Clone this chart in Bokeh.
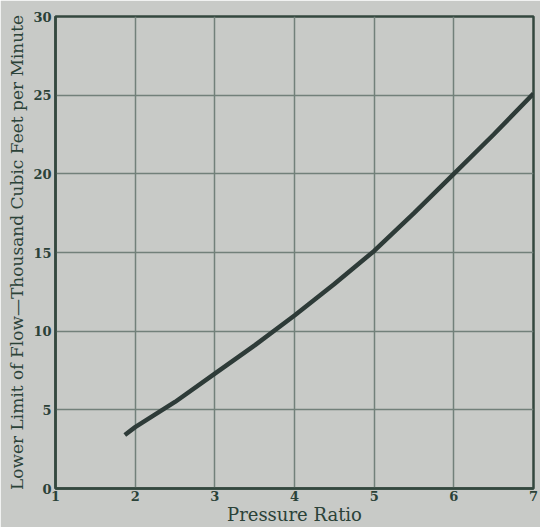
from bokeh.plotting import figure
from bokeh.models import FixedTicker, Range1d
from bokeh.embed import file_html
from bokeh.resources import INLINE

pressure_ratio = [1.87, 2.0, 2.5, 3.0, 3.5, 4.0, 4.5, 5.0, 5.5, 6.0, 6.5, 7.0]
lower_limit_flow = [3.4, 3.9, 5.5, 7.3, 9.1, 11.0, 13.0, 15.1, 17.5, 20.0, 22.5, 25.1]
x_ticks = [1, 2, 3, 4, 5, 6, 7]
y_ticks = [0, 5, 10, 15, 20, 25, 30]

BG = "#c8cac7"
INK = "#2e3b38"
AXIS = "#34483f"
GRID = "#72807a"
LABEL = "#2b4238"
FONT = "DejaVu Serif"

p = figure(width=540, height=527, output_backend="svg", toolbar_location=None,
           x_range=Range1d(1, 7), y_range=Range1d(0, 30),
           min_border_left=55, min_border_right=7, min_border_top=16, min_border_bottom=30)
p.background_fill_color = BG
p.border_fill_color = BG
p.outline_line_color = AXIS
p.outline_line_width = 2.5

p.line(pressure_ratio, lower_limit_flow, line_color=INK, line_width=4.5)

for ax, ticks in ((p.xaxis, x_ticks), (p.yaxis, y_ticks)):
    ax.ticker = FixedTicker(ticks=ticks)
    ax.major_tick_line_color = None
    ax.major_tick_out = 0
    ax.major_tick_in = 0
    ax.minor_tick_line_color = None
    ax.minor_tick_out = 0
    ax.minor_tick_in = 0
    ax.axis_line_color = AXIS
    ax.axis_line_width = 2.5
    ax.major_label_text_font = FONT
    ax.major_label_text_font_size = "13px"
    ax.major_label_text_font_style = "bold"
    ax.major_label_text_color = LABEL
    ax.axis_label_text_font = FONT
    ax.axis_label_text_font_style = "normal"
    ax.axis_label_text_color = LABEL

p.xaxis.axis_label = "Pressure Ratio"
p.yaxis.axis_label = "Lower Limit of Flow\u2014Thousand Cubic Feet per Minute"
p.xaxis.axis_label_text_font_size = "18px"
p.yaxis.axis_label_text_font_size = "17px"
p.xaxis.major_label_standoff = 2
p.yaxis.major_label_standoff = 4
p.xaxis.axis_label_standoff = 0
p.yaxis.axis_label_standoff = 3

p.grid.grid_line_color = GRID
p.grid.grid_line_width = 1.5
p.grid.grid_line_alpha = 1.0

open("out.html", "w").write(file_html(p, INLINE))
